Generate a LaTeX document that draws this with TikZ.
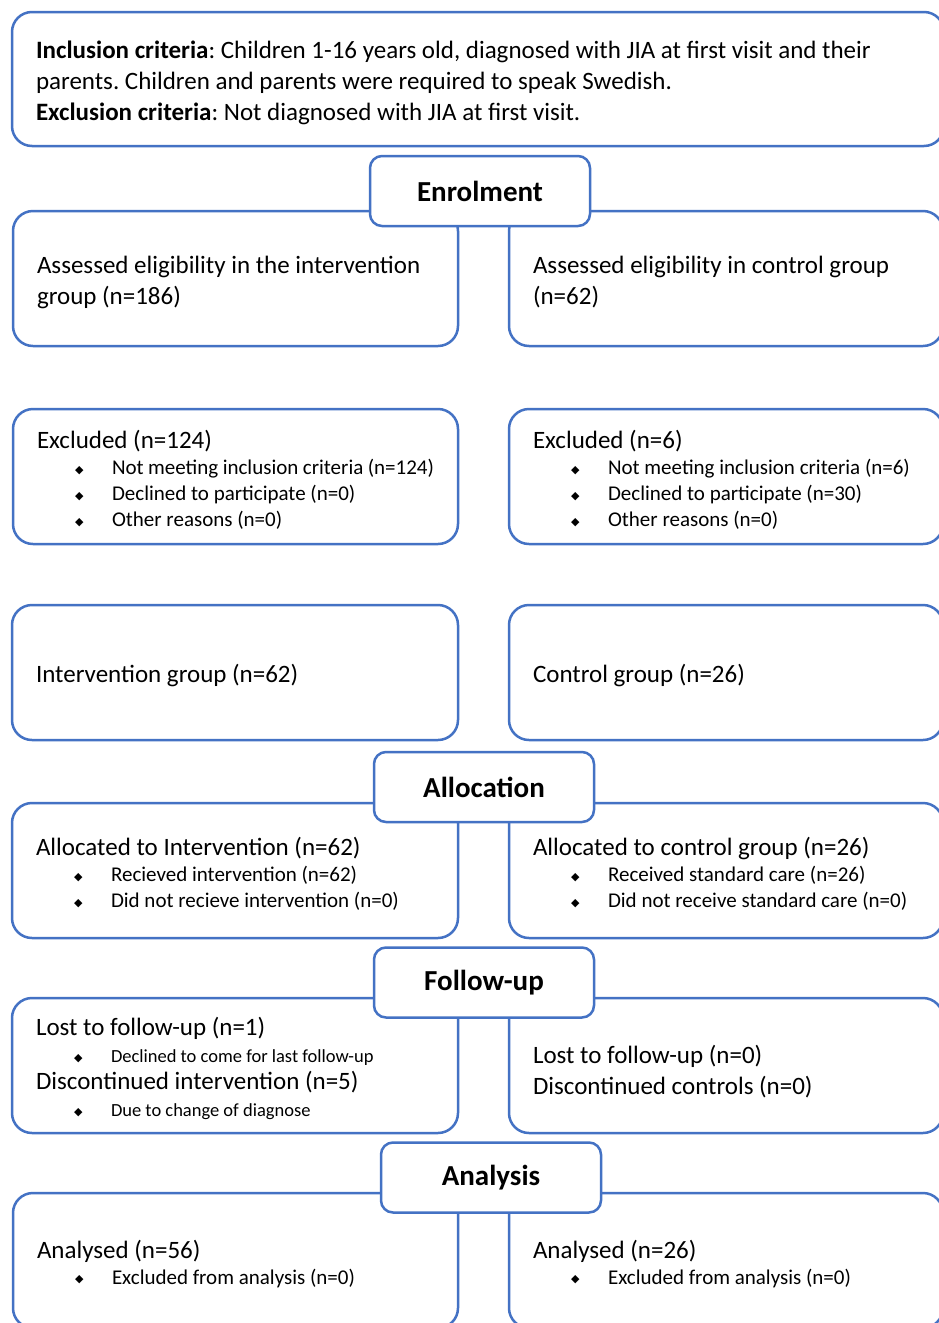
\documentclass[tikz,border=0pt]{standalone}
\usepackage{fontspec}
\setmainfont{Carlito}
\newfontfamily\symfont{DejaVu Sans}
\definecolor{boxblue}{RGB}{68,114,196}
\newcommand{\pstart}{\raggedright\spaceskip=0pt\xspaceskip=0pt\frenchspacing\noindent\rule{0pt}{25pt}}
\newcommand{\dmd}{\raisebox{1.5pt}{\symfont\fontsize{11}{11}\selectfont ◆}}
\newcommand{\bitem}[1]{{\fontsize{21}{26}\selectfont\noindent\hspace*{38pt}\makebox[37pt][l]{\dmd}#1\par}}
\newcommand{\bitemS}[1]{{\fontsize{18.5}{27}\selectfont\noindent\hspace*{38pt}\makebox[37pt][l]{\dmd}#1\par}}
\tikzset{
  panel/.style={draw=boxblue, line width=2.5pt, rounded corners=20pt, anchor=north west,
    outer sep=0pt, inner xsep=24pt, inner ysep=0pt, minimum height=135pt,
    font=\fontsize{25}{31}\selectfont},
  leftpanel/.style={panel, text width=397pt},
  rightpanel/.style={panel, text width=386pt},
  stage/.style={draw=boxblue, line width=2.5pt, rounded corners=12pt, fill=white,
    minimum width=220pt, minimum height=70pt, inner sep=0pt, outer sep=0pt,
    font=\bfseries\fontsize{29}{35}\selectfont},
}
\begin{document}
\begin{tikzpicture}[x=1pt,y=-1pt]
\useasboundingbox (0,0) rectangle (939,1323);
\clip (0,0) rectangle (939,1323);
\fill[white] (0,0) rectangle (939,1323);

\node[panel, text width=884pt, minimum height=134pt] (crit) at (12,12)
  {\pstart\textbf{Inclusion criteria}: Children 1-16 years old, diagnosed with JIA at first visit and their\par
   \noindent parents. Children and parents were required to speak Swedish.\par
   \noindent\textbf{Exclusion criteria}: Not diagnosed with JIA at first visit.\par};

% Enrolment row
\node[leftpanel] (assI) at (13,211)
  {\pstart Assessed eligibility in the intervention\par\noindent group (n=186)\par};
\node[rightpanel] (assC) at (509,211)
  {\pstart Assessed eligibility in control group\par\noindent (n=62)\par};

\node[leftpanel] (excI) at (13,409)
  {\pstart Excluded (n=124)\par
   \bitem{Not meeting inclusion criteria (n=124)}
   \bitem{Declined to participate (n=0)}
   \bitem{Other reasons (n=0)}};
\node[rightpanel] (excC) at (509,409)
  {\pstart Excluded (n=6)\par
   \bitem{Not meeting inclusion criteria (n=6)}
   \bitem{Declined to participate (n=30)}
   \bitem{Other reasons (n=0)}};

\node[leftpanel, text width=398pt] (grpI) at (12,605) {\pstart Intervention group (n=62)\par};
\node[rightpanel] (grpC) at (509,605) {\pstart Control group (n=26)\par};

% Allocation row
\node[leftpanel, text width=398pt] (allI) at (12,803)
  {\pstart Allocated to Intervention (n=62)\par
   \bitem{Recieved intervention (n=62)}
   \bitem{Did not recieve intervention (n=0)}};
\node[rightpanel] (allC) at (509,803)
  {\pstart Allocated to control group (n=26)\par
   \bitem{Received standard care (n=26)}
   \bitem{Did not receive standard care (n=0)}};

% Follow-up row
\node[leftpanel, text width=398pt] (fupI) at (12,998)
  {\pstart Lost to follow-up (n=1)\par
   \bitemS{Declined to come for last follow-up}
   {\fontsize{25}{27}\selectfont\noindent Discontinued intervention (n=5)\par}
   \bitemS{Due to change of diagnose}};
\node[rightpanel] (fupC) at (509,998)
  {\pstart\rule{0pt}{31pt}Lost to follow-up (n=0)\par\noindent Discontinued controls (n=0)\par};

% Analysis row
\node[leftpanel] (anaI) at (13,1193)
  {\pstart Analysed (n=56)\par
   \bitem{Excluded from analysis (n=0)}};
\node[rightpanel] (anaC) at (509,1193)
  {\pstart Analysed (n=26)\par
   \bitem{Excluded from analysis (n=0)}};

% Stage headings
\node[stage] (enrol) at (480,191) {Enrolment};
\node[stage] (alloc) at (484,787) {Allocation};
\node[stage] (follow) at (484,982.5) {Follow-up};
\node[stage] (analysis) at (491,1177.5) {Analysis};
\end{tikzpicture}
\end{document}
